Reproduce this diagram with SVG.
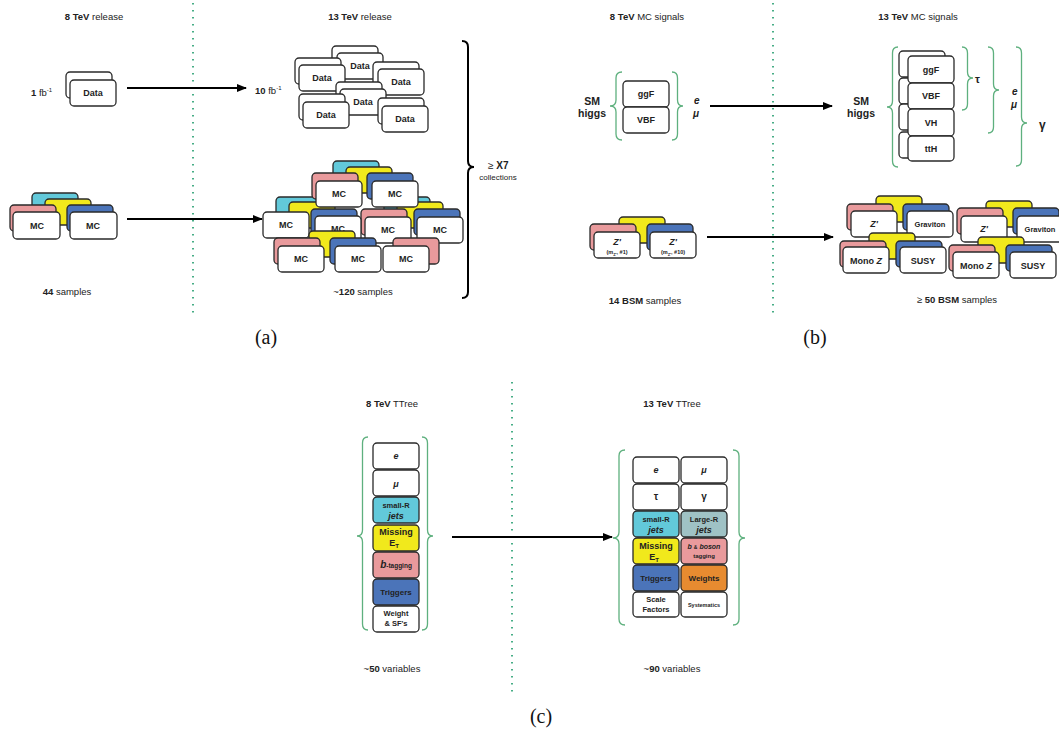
<svg xmlns="http://www.w3.org/2000/svg" width="1059" height="733" viewBox="0 0 1059 733">
<defs>
<marker id="ah" markerUnits="userSpaceOnUse" markerWidth="10" markerHeight="8" refX="9" refY="4" orient="auto"><path d="M0,0 L10,4 L0,8 z" fill="#000"/></marker>
<style>
text{font-family:"Liberation Sans",Arial,sans-serif;fill:#222}
.t{font-size:9.5px;text-anchor:middle}
.sm{font-size:10.5px;text-anchor:middle;font-weight:bold}
.b{font-weight:bold}
.i{font-style:italic}
.c{text-anchor:middle}
.k{font-weight:bold;font-size:9px;text-anchor:middle}
.w,.cy,.ye,.pk,.bl,.gr,.or{stroke:#2a2a2a;stroke-width:1.3}
.w{fill:#fff}.cy{fill:#62c9da}.ye{fill:#f1e91c}.pk{fill:#e99a9c}.bl{fill:#4b74b9}.gr{fill:#9fc2c5}.or{fill:#e78b30}
.dot{stroke:#47ad86;stroke-width:2;stroke-dasharray:1.6 5.4;fill:none}
.br{fill:none;stroke:#5eb07e;stroke-width:1.3}
.arr{stroke:#000;stroke-width:2;fill:none;marker-end:url(#ah)}
.cap{font-family:"Liberation Serif","Times New Roman",serif;font-size:20px;text-anchor:middle;fill:#111}
</style>
</defs>

<g id="dividers">
<line class="dot" x1="193" y1="3" x2="193" y2="313"/>
<line class="dot" x1="773" y1="3" x2="773" y2="313"/>
<line class="dot" x1="512" y1="382" x2="512" y2="694"/>
</g>

<g id="connectors">
<line class="arr" x1="127" y1="88" x2="246" y2="88"/>
<line class="arr" x1="127" y1="219" x2="262" y2="219"/>
<line class="arr" x1="710" y1="106" x2="832" y2="106"/>
<line class="arr" x1="707" y1="237" x2="833" y2="237"/>
<line class="arr" x1="452" y1="537" x2="612" y2="537"/>
</g>

<!-- Panel a -->
<g id="a-titles">
<text class="t" x="94" y="20"><tspan class="b">8 TeV</tspan> release</text>
<text class="t" x="360" y="20"><tspan class="b">13 TeV</tspan> release</text>
<text x="31" y="96" style="font-size:9.5px"><tspan class="b">1</tspan> fb<tspan dy="-4" style="font-size:6px">-1</tspan></text>
<text x="255" y="94" style="font-size:9.5px"><tspan class="b">10</tspan> fb<tspan dy="-4" style="font-size:6px">-1</tspan></text>
<text class="t" x="67" y="295"><tspan class="b">44</tspan> samples</text>
<text class="t" x="363" y="295">~<tspan class="b">120</tspan> samples</text>
<text x="488" y="169" style="font-size:10px"><tspan>≥ </tspan><tspan class="b">X7</tspan></text>
<text class="c" x="498" y="180" style="font-size:8px">collections</text>
<path d="M462 41 Q468 41 468 47 L468 161 Q468 167 474 167 Q468 167 468 173 L468 292 Q468 298 462 298" fill="none" stroke="#000" stroke-width="2"/>
</g>

<g id="a-data8">
<rect class="w" x="66" y="72" width="46" height="26" rx="4"/>
<rect class="w" x="70" y="80" width="46" height="26" rx="4"/>
<text class="k" x="93" y="96">Data</text>
</g>

<g id="a-data13">
<rect class="w" x="332" y="46" width="46" height="26" rx="4"/>
<rect class="w" x="337" y="53" width="46" height="26" rx="4"/>
<text class="k" x="360" y="69">Data</text>
<rect class="w" x="295" y="58" width="46" height="26" rx="4"/>
<rect class="w" x="299" y="65" width="46" height="26" rx="4"/>
<text class="k" x="322" y="81">Data</text>
<rect class="w" x="373" y="62" width="46" height="26" rx="4"/>
<rect class="w" x="378" y="69" width="46" height="26" rx="4"/>
<text class="k" x="401" y="85">Data</text>
<rect class="w" x="336" y="82" width="46" height="26" rx="4"/>
<rect class="w" x="340" y="89" width="46" height="26" rx="4"/>
<text class="k" x="363" y="105">Data</text>
<rect class="w" x="299" y="94" width="46" height="26" rx="4"/>
<rect class="w" x="303" y="102" width="46" height="26" rx="4"/>
<text class="k" x="326" y="118">Data</text>
<rect class="w" x="378" y="98" width="46" height="26" rx="4"/>
<rect class="w" x="382" y="106" width="46" height="26" rx="4"/>
<text class="k" x="405" y="122">Data</text>
</g>

<g id="a-mc8">
<rect class="cy" x="32" y="193" width="46" height="26" rx="4"/>
<rect class="ye" x="45" y="199" width="46" height="26" rx="4"/>
<rect class="pk" x="10" y="205" width="46" height="26" rx="4"/>
<rect class="bl" x="67" y="205" width="46" height="26" rx="4"/>
<rect class="w" x="13" y="212" width="47" height="27" rx="4"/>
<rect class="w" x="70" y="212" width="47" height="27" rx="4"/>
<text class="k" x="37" y="229">MC</text>
<text class="k" x="93" y="229">MC</text>
</g>

<g id="a-mc13">
<rect class="cy" x="276" y="197" width="46" height="26" rx="4"/>
<rect class="ye" x="289" y="202" width="46" height="26" rx="4"/>
<rect class="cy" x="384" y="197" width="46" height="26" rx="4"/>
<rect class="ye" x="397" y="202" width="46" height="26" rx="4"/>
<rect class="bl" x="311" y="209" width="46" height="26" rx="4"/>
<rect class="pk" x="361" y="209" width="46" height="26" rx="4"/>
<rect class="bl" x="414" y="209" width="46" height="26" rx="4"/>
<rect class="cy" x="333" y="161" width="46" height="26" rx="4"/>
<rect class="ye" x="346" y="167" width="46" height="26" rx="4"/>
<rect class="pk" x="312" y="173" width="46" height="26" rx="4"/>
<rect class="bl" x="367" y="173" width="46" height="26" rx="4"/>
<rect class="w" x="316" y="181" width="46" height="26" rx="4"/>
<rect class="w" x="372" y="181" width="46" height="26" rx="4"/>
<text class="k" x="339" y="197">MC</text>
<text class="k" x="395" y="197">MC</text>
<rect class="w" x="263" y="212" width="46" height="26" rx="4"/>
<text class="k" x="286" y="228">MC</text>
<rect class="w" x="315" y="216" width="46" height="26" rx="4"/>
<text class="k" x="338" y="232">MC</text>
<rect class="w" x="365" y="217" width="46" height="26" rx="4"/>
<text class="k" x="388" y="233">MC</text>
<rect class="w" x="417" y="217" width="46" height="26" rx="4"/>
<text class="k" x="440" y="233">MC</text>
<rect class="ye" x="309" y="231" width="46" height="26" rx="4"/>
<rect class="pk" x="274" y="238" width="46" height="26" rx="4"/>
<rect class="bl" x="330" y="238" width="46" height="26" rx="4"/>
<rect class="pk" x="393" y="238" width="46" height="26" rx="4"/>
<rect class="w" x="278" y="246" width="46" height="26" rx="4"/>
<text class="k" x="301" y="262">MC</text>
<rect class="w" x="335" y="246" width="46" height="26" rx="4"/>
<text class="k" x="358" y="262">MC</text>
<rect class="w" x="383" y="246" width="46" height="26" rx="4"/>
<text class="k" x="406" y="262">MC</text>
</g>

<!-- Panel b -->
<g id="b-titles">
<text class="t" x="647" y="20"><tspan class="b">8 TeV</tspan> MC signals</text>
<text class="t" x="918" y="20"><tspan class="b">13 TeV</tspan> MC signals</text>
<text class="t" x="645" y="304"><tspan class="b">14 BSM</tspan> samples</text>
<text class="t" x="957" y="303">≥ <tspan class="b">50 BSM</tspan> samples</text>
</g>

<g id="b-sm8">
<text class="sm" x="592" y="105">SM</text>
<text class="sm" x="592" y="117">higgs</text>
<path class="br" d="M622 72 Q616 72 616 78 L616 100 Q616 106 610 106 Q616 106 616 112 L616 134 Q616 140 622 140"/>
<rect class="w" x="623" y="81" width="46" height="26" rx="4"/>
<text class="k" x="646" y="97">ggF</text>
<rect class="w" x="623" y="107" width="46" height="26" rx="4"/>
<text class="k" x="646" y="123">VBF</text>
<path class="br" d="M672 72 Q677.5 72 677.5 78 L677.5 100 Q677.5 106 683 106 Q677.5 106 677.5 112 L677.5 134 Q677.5 140 672 140"/>
<text class="b i" x="694" y="104" style="font-size:10px">e</text>
<text class="b i" x="693" y="117" style="font-size:10px">μ</text>
</g>

<g id="b-sm13">
<text class="sm" x="861" y="105">SM</text>
<text class="sm" x="861" y="117">higgs</text>
<path class="br" d="M898 47 Q892.5 47 892.5 53 L892.5 101 Q892.5 107 887 107 Q892.5 107 892.5 113 L892.5 161 Q892.5 167 898 167"/>
<rect class="w" x="899" y="51" width="46" height="26" rx="4"/>
<rect class="w" x="899" y="78" width="46" height="26" rx="4"/>
<rect class="w" x="899" y="104" width="46" height="26" rx="4"/>
<rect class="w" x="899" y="132" width="46" height="26" rx="4"/>
<rect class="w" x="908" y="56" width="46" height="27" rx="4"/>
<text class="k" x="931" y="73">ggF</text>
<rect class="w" x="908" y="83" width="46" height="26" rx="4"/>
<text class="k" x="931" y="99">VBF</text>
<rect class="w" x="908" y="109" width="46" height="27" rx="4"/>
<text class="k" x="931" y="126">VH</text>
<rect class="w" x="908" y="136" width="46" height="25" rx="4"/>
<text class="k" x="931" y="152">ttH</text>
<path class="br" d="M962 47 Q967.5 47 967.5 53 L967.5 72 Q967.5 78 973 78 Q967.5 78 967.5 84 L967.5 104 Q967.5 110 962 110"/>
<text class="b" x="975" y="83" style="font-size:11px">τ</text>
<path class="br" d="M988 47 Q993.5 47 993.5 53 L993.5 84 Q993.5 90 999 90 Q993.5 90 993.5 96 L993.5 127 Q993.5 133 988 133"/>
<text class="b i" x="1012" y="95" style="font-size:10px">e</text>
<text class="b i" x="1011" y="108" style="font-size:10px">μ</text>
<path class="br" d="M1016 47 Q1021.5 47 1021.5 53 L1021.5 117 Q1021.5 123 1027 123 Q1021.5 123 1021.5 129 L1021.5 160 Q1021.5 166 1016 166"/>
<text class="b" x="1039" y="129" style="font-size:12px">γ</text>
</g>

<g id="b-bsm8">
<rect class="ye" x="619" y="217" width="46" height="26" rx="4"/>
<rect class="pk" x="590" y="224" width="46" height="26" rx="4"/>
<rect class="bl" x="647" y="224" width="46" height="26" rx="4"/>
<rect class="w" x="594" y="232" width="46" height="26" rx="4"/>
<text class="k i" x="617" y="245">Z'</text>
<text class="b c" x="617" y="254" style="font-size:5.5px">(m<tspan dy="1.5" style="font-size:4px">Z'</tspan><tspan dy="-1.5">, #1)</tspan></text>
<rect class="w" x="650" y="232" width="46" height="26" rx="4"/>
<text class="k i" x="673" y="245">Z'</text>
<text class="b c" x="673" y="254" style="font-size:5.5px">(m<tspan dy="1.5" style="font-size:4px">Z'</tspan><tspan dy="-1.5">, #10)</tspan></text>
</g>

<g id="b-bsm13a">
<rect class="ye" x="876" y="196" width="46" height="26" rx="4"/>
<rect class="pk" x="847" y="204" width="46" height="26" rx="4"/>
<rect class="bl" x="903" y="204" width="46" height="26" rx="4"/>
<rect class="w" x="851" y="211" width="46" height="26" rx="4"/>
<text class="k i" x="874" y="227">Z'</text>
<rect class="w" x="907" y="211" width="46" height="26" rx="4"/>
<text class="b c" x="930" y="227" style="font-size:7.5px">Graviton</text>
<rect class="ye" x="869" y="233" width="46" height="26" rx="4"/>
<rect class="pk" x="840" y="241" width="46" height="26" rx="4"/>
<rect class="bl" x="896" y="241" width="46" height="26" rx="4"/>
<rect class="w" x="843" y="247" width="46" height="26" rx="4"/>
<text class="k" x="866" y="264">Mono <tspan class="i">Z</tspan></text>
<rect class="w" x="900" y="247" width="46" height="26" rx="4"/>
<text class="k" x="923" y="264">SUSY</text>
</g>

<g id="b-bsm13b">
<rect class="ye" x="986" y="201" width="46" height="26" rx="4"/>
<rect class="pk" x="957" y="208" width="46" height="26" rx="4"/>
<rect class="bl" x="1013" y="208" width="46" height="26" rx="4"/>
<rect class="w" x="961" y="216" width="46" height="26" rx="4"/>
<text class="k i" x="984" y="232">Z'</text>
<rect class="w" x="1017" y="216" width="46" height="26" rx="4"/>
<text class="b c" x="1040" y="232" style="font-size:7.5px">Graviton</text>
<rect class="ye" x="978" y="237" width="46" height="26" rx="4"/>
<rect class="pk" x="949" y="245" width="46" height="26" rx="4"/>
<rect class="bl" x="1006" y="245" width="46" height="26" rx="4"/>
<rect class="w" x="953" y="252" width="46" height="26" rx="4"/>
<text class="k" x="976" y="269">Mono <tspan class="i">Z</tspan></text>
<rect class="w" x="1010" y="252" width="46" height="26" rx="4"/>
<text class="k" x="1033" y="269">SUSY</text>
</g>

<g id="captions">
<text class="cap" x="266" y="344">(a)</text>
<text class="cap" x="815" y="344">(b)</text>
<text class="cap" x="541" y="723">(c)</text>
</g>

<!-- Panel c -->
<g id="c-titles">
<text class="t" x="392" y="407"><tspan class="b">8 TeV</tspan> TTree</text>
<text class="t" x="672" y="407"><tspan class="b">13 TeV</tspan> TTree</text>
<text class="t" x="392" y="672">~<tspan class="b">50</tspan> variables</text>
<text class="t" x="672" y="672">~<tspan class="b">90</tspan> variables</text>
</g>

<g id="c-tree8">
<path class="br" d="M368 437 Q362.5 437 362.5 443 L362.5 530 Q362.5 536 357 536 Q362.5 536 362.5 542 L362.5 624 Q362.5 630 368 630"/>
<path class="br" d="M422 437 Q427.5 437 427.5 443 L427.5 530 Q427.5 536 433 536 Q427.5 536 427.5 542 L427.5 624 Q427.5 630 422 630"/>
<rect class="w" x="373" y="443" width="46" height="26" rx="4"/>
<text class="k i" x="396" y="459">e</text>
<rect class="w" x="373" y="470" width="46" height="26" rx="4"/>
<text class="k i" x="396" y="487">μ</text>
<rect class="cy" x="373" y="497" width="46" height="26" rx="4"/>
<text class="b c" x="396" y="508" style="font-size:7.5px">small-R</text>
<text class="b i c" x="396" y="519" style="font-size:9px">jets</text>
<rect class="ye" x="373" y="525" width="46" height="26" rx="4"/>
<text class="k" x="396" y="535">Missing</text>
<text class="k" x="394" y="546">E<tspan dy="2" style="font-size:6px">T</tspan></text>
<rect class="pk" x="373" y="552" width="46" height="26" rx="4"/>
<text class="b c" x="396" y="568"><tspan class="i" style="font-size:10px">b</tspan><tspan style="font-size:6.5px">-tagging</tspan></text>
<rect class="bl" x="373" y="579" width="46" height="26" rx="4"/>
<text class="b c" x="396" y="595" style="font-size:8px">Triggers</text>
<rect class="w" x="373" y="606" width="46" height="26" rx="4"/>
<text class="b c" x="396" y="616" style="font-size:7.5px">Weight</text>
<text class="b c" x="396" y="626" style="font-size:7.5px">&amp; SF's</text>
</g>

<g id="c-tree13">
<path class="br" d="M625 450 Q619 450 619 456 L619 532 Q619 538 613 538 Q619 538 619 544 L619 619 Q619 625 625 625"/>
<path class="br" d="M733 450 Q739 450 739 456 L739 532 Q739 538 745 538 Q739 538 739 544 L739 619 Q739 625 733 625"/>
<rect class="w" x="633" y="457" width="46" height="26" rx="4"/>
<text class="k i" x="656" y="473">e</text>
<rect class="w" x="681" y="457" width="46" height="26" rx="4"/>
<text class="k i" x="704" y="473">μ</text>
<rect class="w" x="633" y="484" width="46" height="26" rx="4"/>
<text class="k" x="656" y="500" style="font-size:10px">τ</text>
<rect class="w" x="681" y="484" width="46" height="26" rx="4"/>
<text class="k" x="704" y="500" style="font-size:10px">γ</text>
<rect class="cy" x="633" y="511" width="46" height="26" rx="4"/>
<text class="b c" x="656" y="522" style="font-size:7.5px">small-R</text>
<text class="b i c" x="656" y="533" style="font-size:9px">jets</text>
<rect class="gr" x="681" y="511" width="46" height="26" rx="4"/>
<text class="b c" x="704" y="522" style="font-size:7.5px">Large-R</text>
<text class="b i c" x="704" y="533" style="font-size:9px">jets</text>
<rect class="ye" x="633" y="538" width="46" height="26" rx="4"/>
<text class="k" x="656" y="549">Missing</text>
<text class="k" x="654" y="560">E<tspan dy="2" style="font-size:6px">T</tspan></text>
<rect class="pk" x="681" y="538" width="46" height="26" rx="4"/>
<text class="b i c" x="704" y="549" style="font-size:7px">b <tspan style="font-size:5px;font-style:normal">&amp;</tspan> boson</text>
<text class="b c" x="704" y="558" style="font-size:6px">tagging</text>
<rect class="bl" x="633" y="565" width="46" height="26" rx="4"/>
<text class="b c" x="656" y="581" style="font-size:8px">Triggers</text>
<rect class="or" x="681" y="565" width="46" height="26" rx="4"/>
<text class="b c" x="704" y="581" style="font-size:8px">Weights</text>
<rect class="w" x="633" y="592" width="46" height="25" rx="4"/>
<text class="b c" x="656" y="602" style="font-size:7.5px">Scale</text>
<text class="b c" x="656" y="612" style="font-size:7.5px">Factors</text>
<rect class="w" x="681" y="592" width="46" height="25" rx="4"/>
<text class="b c" x="704" y="607" style="font-size:5.5px">Systematics</text>
</g>
</svg>
